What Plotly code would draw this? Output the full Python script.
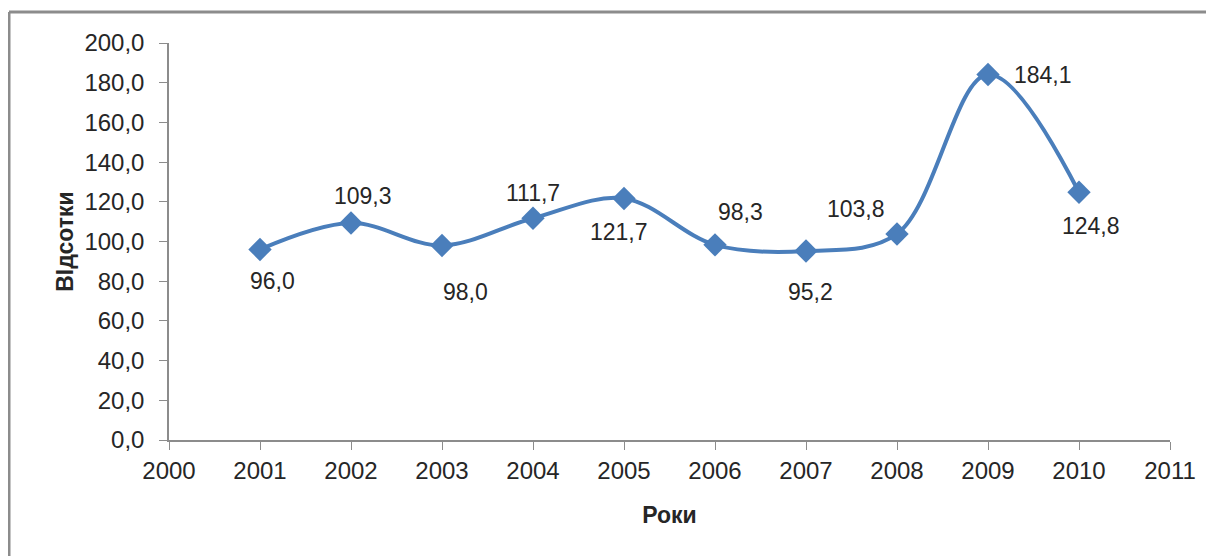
import plotly.graph_objects as go

years = [2001, 2002, 2003, 2004, 2005, 2006, 2007, 2008, 2009, 2010]
values = [96.0, 109.3, 98.0, 111.7, 121.7, 98.3, 95.2, 103.8, 184.1, 124.8]
# label offsets (pixels) relative to each point
label_dx = [12, 12, 23, 0, -5, 25, 4, -41, 55, 12]
label_dy = [32, -27, 47, -25, 34, -33, 41, -25, 0, 34]
x_ticks = list(range(2000, 2012))
y_ticks = [0, 20, 40, 60, 80, 100, 120, 140, 160, 180, 200]
y_ticktext = [f"{v:.1f}".replace(".", ",") for v in y_ticks]
labels = [f"{v:.1f}".replace(".", ",") for v in values]

FONT = "Liberation Sans"
TXT = "#262626"
W, H = 1214, 556
off = 8  # page body margin
ml, mt = 169 - off, 43 - off
mr = W - (1170 - off)
mb = H - (440 - off)
pw, ph = W - ml - mr, H - mt - mb

fig = go.Figure()
fig.add_trace(go.Scatter(
    x=years, y=values, mode="lines+markers",
    line=dict(color="#4A7EBB", width=4, shape="spline", smoothing=1.0),
    marker=dict(symbol="diamond", size=18, color="#4A7EBB"),
    cliponaxis=False, showlegend=False,
))
for xv, yv, t, dx, dy in zip(years, values, labels, label_dx, label_dy):
    fig.add_annotation(x=xv, y=yv, text=t, showarrow=False, xshift=dx, yshift=-dy,
                       font=dict(family=FONT, size=23, color=TXT))

axis_common = dict(showgrid=False, zeroline=False, showline=True, linecolor="#8C8C8C",
                   linewidth=1.5, ticks="outside", ticklen=8, tickcolor="#8C8C8C",
                   tickfont=dict(family=FONT, size=24, color=TXT))

fig.update_xaxes(range=[2000, 2011], tickvals=x_ticks, ticktext=[str(v) for v in x_ticks],
                 title=dict(text="<b>Роки</b>", font=dict(family=FONT, size=23, color=TXT),
                            standoff=24),
                 **axis_common)
fig.update_yaxes(range=[0, 200], tickvals=y_ticks, ticktext=y_ticktext,
                 ticklabelstandoff=10,
                 title=dict(text="<b>ВІдсотки</b>", font=dict(family=FONT, size=23, color=TXT),
                            standoff=4),
                 **axis_common)

bx = (9 - off - ml) / pw
by = (H - mb - (12 - off)) / ph
fig.add_shape(type="line", xref="paper", yref="paper", x0=bx, x1=bx, y0=by, y1=-0.5,
              line=dict(color="#8C8C8C", width=3))
fig.add_shape(type="line", xref="paper", yref="paper", x0=bx, x1=1.2, y0=by, y1=by,
              line=dict(color="#8C8C8C", width=3))

fig.update_layout(width=W, height=H, margin=dict(l=ml, r=mr, t=mt, b=mb),
                  plot_bgcolor="white", paper_bgcolor="white")
fig.write_html("out.html")
